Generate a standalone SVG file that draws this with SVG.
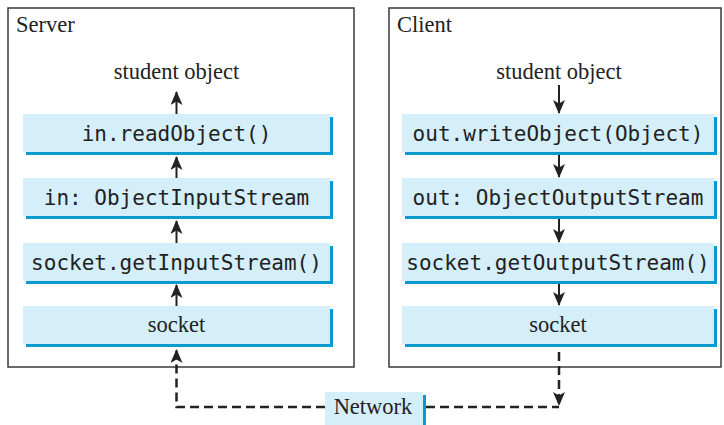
<svg xmlns="http://www.w3.org/2000/svg" width="724" height="425" viewBox="0 0 724 425">
  <style>
    .frame { fill: #ffffff; stroke: #3a3a3a; stroke-width: 1.5; }
    .shadow { fill: #0a9ad0; }
    .box { fill: #d4eefa; }
    .mono { font-family: "DejaVu Sans Mono", "Liberation Mono", monospace; font-size: 21px; fill: #222; text-anchor: middle; }
    .serif { font-family: "Liberation Serif", "Times New Roman", "DejaVu Serif", serif; font-size: 22.5px; fill: #222; }
    .mid { text-anchor: middle; }
    .arrow { stroke: #222; stroke-width: 2; fill: none; }
    .dash { stroke: #222; stroke-width: 2.5; fill: none; stroke-dasharray: 9 5; }
  </style>
  <defs>
    <marker id="ah" viewBox="0 0 14 12" refX="13" refY="6" markerWidth="14" markerHeight="12" markerUnits="userSpaceOnUse" orient="auto">
      <path d="M0,0 L14,6 L0,12 L3.5,6 Z" fill="#222"/>
    </marker>
  </defs>

  <g id="server">
    <rect class="frame" x="8" y="8" width="346" height="359"/>
    <text class="serif" x="16" y="32">Server</text>
    <text class="serif mid" x="176.5" y="79">student object</text>
  </g>
  <g id="client">
    <rect class="frame" x="389" y="8" width="332" height="359"/>
    <text class="serif" x="397" y="32">Client</text>
    <text class="serif mid" x="559" y="79">student object</text>
  </g>

  <g id="s-readObject">
    <rect class="shadow" x="26" y="117" width="307" height="38"/>
    <rect class="box" x="23" y="114" width="307" height="38"/>
    <text class="mono" x="176.5" y="141">in.readObject()</text>
  </g>
  <g id="s-ois">
    <rect class="shadow" x="26" y="181" width="307" height="38"/>
    <rect class="box" x="23" y="178" width="307" height="38"/>
    <text class="mono" x="176.5" y="205">in: ObjectInputStream</text>
  </g>
  <g id="s-getInputStream">
    <rect class="shadow" x="26" y="246" width="307" height="38"/>
    <rect class="box" x="23" y="243" width="307" height="38"/>
    <text class="mono" x="176.5" y="270">socket.getInputStream()</text>
  </g>
  <g id="s-socket">
    <rect class="shadow" x="26" y="309" width="307" height="38"/>
    <rect class="box" x="23" y="306" width="307" height="38"/>
    <text class="serif mid" x="176.5" y="332">socket</text>
  </g>

  <g id="c-writeObject">
    <rect class="shadow" x="405" y="117" width="312" height="38"/>
    <rect class="box" x="402" y="114" width="312" height="38"/>
    <text class="mono" x="558" y="141">out.writeObject(Object)</text>
  </g>
  <g id="c-oos">
    <rect class="shadow" x="405" y="181" width="312" height="38"/>
    <rect class="box" x="402" y="178" width="312" height="38"/>
    <text class="mono" x="558" y="205">out: ObjectOutputStream</text>
  </g>
  <g id="c-getOutputStream">
    <rect class="shadow" x="405" y="246" width="312" height="38"/>
    <rect class="box" x="402" y="243" width="312" height="38"/>
    <text class="mono" x="558" y="270">socket.getOutputStream()</text>
  </g>
  <g id="c-socket">
    <rect class="shadow" x="405" y="309" width="312" height="38"/>
    <rect class="box" x="402" y="306" width="312" height="38"/>
    <text class="serif mid" x="558" y="332">socket</text>
  </g>

  <g id="network">
    <rect class="shadow" x="328" y="395" width="98" height="32"/>
    <rect class="box" x="325" y="392" width="98" height="33"/>
    <text class="serif mid" x="373" y="414">Network</text>
  </g>

  <g id="connectors">
    <path class="arrow" d="M176.5,114 V92" marker-end="url(#ah)"/>
    <path class="arrow" d="M176.5,178 V157" marker-end="url(#ah)"/>
    <path class="arrow" d="M176.5,243 V221" marker-end="url(#ah)"/>
    <path class="arrow" d="M176.5,306 V285" marker-end="url(#ah)"/>

    <path class="arrow" d="M559,85 V113" marker-end="url(#ah)"/>
    <path class="arrow" d="M559,155 V177" marker-end="url(#ah)"/>
    <path class="arrow" d="M559,219 V242" marker-end="url(#ah)"/>
    <path class="arrow" d="M559,284 V305" marker-end="url(#ah)"/>

    <path class="dash" d="M325,407 H176.5 V350" marker-end="url(#ah)"/>
    <path class="dash" d="M559,352 V405" marker-end="url(#ah)"/>
    <path class="dash" d="M426,407 H559"/>
  </g>
</svg>
